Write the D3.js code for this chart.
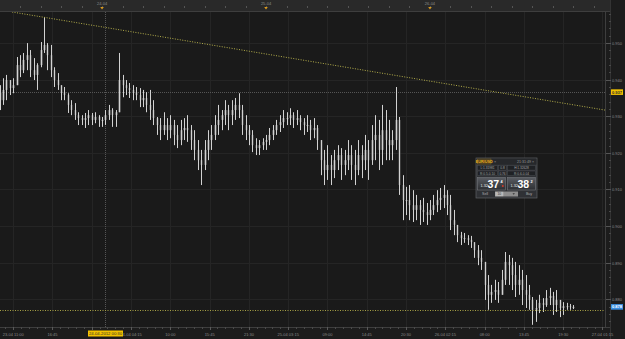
<!DOCTYPE html>
<html>
<head>
<meta charset="utf-8">
<script src="https://cdn.jsdelivr.net/npm/d3@7"></script>
<style>
  html, body { margin: 0; padding: 0; background: #1d1d1d; }
  svg { display: block; font-family: "Liberation Sans", Arial, sans-serif; }
</style>
</head>
<body>
<svg width="625" height="339"></svg>
<script>
// 30 minute bars from 23-04-2012 09:00, prices in 1/10000
var barStart = '23-04 09:00';
var firstOpen = 9365;
var highs = [
  9385, 9404, 9413, 9399, 9404, 9462, 9467, 9473, 9500, 9481,
  9459, 9445, 9503, 9571, 9500, 9495, 9434, 9418, 9385, 9380,
  9363, 9344, 9336, 9311, 9303, 9309, 9317, 9309, 9311, 9303,
  9298, 9317, 9331, 9322, 9317, 9473, 9413, 9399, 9391, 9385,
  9380, 9377, 9372, 9366, 9372, 9344, 9298, 9295, 9311, 9295,
  9303, 9290, 9276, 9290, 9295, 9303, 9276, 9262, 9235, 9208,
  9235, 9262, 9276, 9303, 9331, 9317, 9344, 9331, 9344, 9350,
  9363, 9331, 9303, 9276, 9262, 9240, 9235, 9240, 9249, 9268,
  9276, 9290, 9303, 9317, 9311, 9322, 9311, 9317, 9303, 9295,
  9303, 9290, 9295, 9276, 9235, 9208, 9221, 9194, 9208, 9221,
  9213, 9208, 9235, 9221, 9208, 9235, 9221, 9249, 9235, 9276,
  9303, 9290, 9331, 9317, 9290, 9262, 9380, 9298, 9139, 9107,
  9112, 9098, 9085, 9071, 9077, 9063, 9071, 9085, 9098, 9104,
  9112, 9098, 9085, 9044, 9003, 8984, 8981, 8975, 8973, 8954,
  8948, 8934, 8893, 8866, 8839, 8853, 8847, 8880, 8929, 8921,
  8913, 8902, 8893, 8880, 8866, 8839, 8806, 8798, 8812, 8803,
  8825, 8831, 8820, 8825, 8798, 8792, 8790, 8787, 8784
];
var lows = [
  9317, 9331, 9344, 9358, 9363, 9399, 9407, 9418, 9426, 9407,
  9399, 9372, 9434, 9473, 9426, 9407, 9380, 9372, 9344, 9344,
  9309, 9303, 9290, 9276, 9276, 9268, 9276, 9276, 9281, 9271,
  9271, 9276, 9290, 9271, 9271, 9317, 9352, 9358, 9350, 9344,
  9344, 9325, 9325, 9311, 9290, 9276, 9249, 9235, 9249, 9235,
  9240, 9221, 9213, 9221, 9235, 9230, 9208, 9180, 9153, 9112,
  9153, 9180, 9208, 9235, 9249, 9262, 9276, 9262, 9276, 9290,
  9295, 9249, 9235, 9221, 9202, 9194, 9194, 9208, 9208, 9221,
  9235, 9249, 9257, 9268, 9276, 9276, 9268, 9276, 9262, 9249,
  9257, 9235, 9240, 9208, 9139, 9112, 9126, 9112, 9131, 9153,
  9126, 9139, 9153, 9126, 9112, 9139, 9131, 9153, 9126, 9167,
  9180, 9153, 9167, 9180, 9180, 9180, 9208, 9085, 9016, 9030,
  9016, 9011, 9016, 9003, 9011, 9003, 9016, 9030, 9038, 9044,
  9049, 9030, 8989, 8975, 8956, 8948, 8954, 8948, 8940, 8913,
  8893, 8880, 8798, 8771, 8790, 8798, 8790, 8812, 8839, 8839,
  8825, 8806, 8812, 8784, 8776, 8771, 8730, 8738, 8762, 8765,
  8779, 8784, 8757, 8765, 8751, 8757, 8771, 8771, 8773
];
var closes = [
  9344, 9372, 9399, 9377, 9385, 9440, 9426, 9454, 9467, 9426,
  9413, 9440, 9481, 9495, 9467, 9426, 9399, 9385, 9366, 9358,
  9331, 9317, 9303, 9295, 9290, 9295, 9303, 9290, 9298, 9290,
  9290, 9303, 9317, 9303, 9311, 9399, 9385, 9377, 9372, 9366,
  9358, 9344, 9350, 9331, 9317, 9295, 9276, 9262, 9276, 9262,
  9276, 9249, 9235, 9262, 9268, 9262, 9235, 9208, 9180, 9167,
  9208, 9235, 9249, 9276, 9290, 9303, 9317, 9303, 9317, 9331,
  9317, 9276, 9262, 9249, 9221, 9213, 9221, 9230, 9235, 9249,
  9262, 9276, 9284, 9295, 9295, 9303, 9290, 9295, 9284, 9276,
  9276, 9262, 9268, 9235, 9180, 9153, 9167, 9153, 9180, 9194,
  9167, 9180, 9194, 9167, 9153, 9194, 9180, 9208, 9180, 9235,
  9249, 9208, 9262, 9235, 9221, 9235, 9290, 9112, 9071, 9071,
  9057, 9044, 9057, 9044, 9038, 9030, 9044, 9057, 9071, 9077,
  9085, 9057, 9016, 9003, 8975, 8967, 8967, 8962, 8956, 8934,
  8913, 8902, 8839, 8812, 8820, 8825, 8812, 8853, 8902, 8893,
  8866, 8839, 8853, 8825, 8812, 8798, 8771, 8776, 8790, 8784,
  8803, 8809, 8784, 8798, 8776, 8781, 8781, 8779, 8779
];

var timeTicks = ['23-04 11:00', '23-04 16:45', '23-04 22:30', '24-04 04:15', '24-04 10:00',
  '24-04 15:45', '24-04 21:30', '25-04 03:15', '25-04 09:00', '25-04 14:45', '25-04 20:30',
  '26-04 02:15', '26-04 08:00', '26-04 13:45', '26-04 19:30', '27-04 01:15'];
var dayLabels = ['24-04', '25-04', '26-04'];
var priceTicks = [0.950, 0.940, 0.930, 0.920, 0.910, 0.900, 0.890, 0.880];

var trendLine = [{ t: '23-04 10:50', p: 0.9585 }, { t: '27-04 01:36', p: 0.9317 }];
var levelLine = 0.8771;
var cursorTime = '24-04 00:30';
var cursorPrice = 0.9366;
var lastPrice = 0.8779;

(function() {
  'use strict';

  var W = 625, H = 339;
  var pLeft = 0, pRight = 605, pTop = 12, pBottom = 327;

  var parseT = function(s) {
    return d3.timeParse('%d-%m-%Y %H:%M')(s.slice(0, 5) + '-2012' + s.slice(5));
  };

  var svg = d3.select('svg');

  var x = d3.scaleTime()
    .domain([parseT('23-04 09:04'), parseT('27-04 01:37')])
    .range([pLeft, pRight]);
  var y = d3.scaleLinear()
    .domain([0.8724, 0.9585])
    .range([pBottom, pTop]);

  var t0 = parseT(barStart);
  var bars = highs.map(function(h, i) {
    return {
      t: d3.timeMinute.offset(t0, 30 * i),
      o: (i === 0 ? firstOpen : closes[i - 1]) / 1e4,
      h: h / 1e4,
      l: lows[i] / 1e4,
      c: closes[i] / 1e4
    };
  });

  // backgrounds
  svg.append('rect').attr('width', W).attr('height', H).attr('fill', '#1c1c1c');
  svg.append('rect').attr('x', 0).attr('y', 0).attr('width', 611).attr('height', 11).attr('fill', '#292929');
  svg.append('rect').attr('x', pLeft).attr('y', pTop).attr('width', pRight - pLeft).attr('height', pBottom - pTop)
    .attr('fill', '#1a1a1a');

  // grid
  var grid = svg.append('g').attr('stroke', '#252525').attr('stroke-width', 1);
  timeTicks.forEach(function(s) {
    var gx = Math.round(x(parseT(s))) + 0.5;
    grid.append('line').attr('x1', gx).attr('x2', gx).attr('y1', pTop).attr('y2', pBottom);
  });
  priceTicks.forEach(function(p) {
    var gy = Math.round(y(p)) + 0.5;
    grid.append('line').attr('x1', pLeft).attr('x2', pRight).attr('y1', gy).attr('y2', gy);
  });

  // frame
  svg.append('line').attr('x1', 0).attr('x2', 611).attr('y1', 11.5).attr('y2', 11.5).attr('stroke', '#3e3e3e');
  svg.append('line').attr('x1', 0).attr('x2', 611).attr('y1', pBottom + 0.5).attr('y2', pBottom + 0.5).attr('stroke', '#3e3e3e');
  svg.append('line').attr('x1', pRight + 0.5).attr('x2', pRight + 0.5).attr('y1', pTop).attr('y2', pBottom).attr('stroke', '#3e3e3e');
  svg.append('line').attr('x1', 610.5).attr('x2', 610.5).attr('y1', 0).attr('y2', H).attr('stroke', '#333');

  svg.append('clipPath').attr('id', 'plot')
    .append('rect').attr('x', pLeft).attr('y', pTop).attr('width', pRight - pLeft).attr('height', pBottom - pTop);
  var plot = svg.append('g').attr('clip-path', 'url(#plot)');

  // crosshair
  var cx = Math.round(x(parseT(cursorTime))) + 0.5;
  var cy = Math.round(y(cursorPrice)) + 0.5;
  plot.append('line').attr('x1', cx).attr('x2', cx).attr('y1', pTop).attr('y2', pBottom)
    .attr('stroke', '#555').attr('stroke-dasharray', '1,1');
  plot.append('line').attr('x1', pLeft).attr('x2', pRight).attr('y1', cy).attr('y2', cy)
    .attr('stroke', '#555').attr('stroke-dasharray', '1,1');

  // candles: grey body, light wick
  var candle = plot.selectAll('g.bar').data(bars).enter().append('g').attr('class', 'bar')
    .attr('transform', function(d) { return 'translate(' + Math.round(x(d.t)) + ',0)'; });
  candle.append('rect')
    .attr('x', -0.5).attr('width', 2)
    .attr('y', function(d) { return y(Math.max(d.o, d.c)); })
    .attr('height', function(d) { return Math.max(1, Math.abs(y(d.o) - y(d.c))); })
    .attr('fill', function(d) { return d.c >= d.o ? '#8a8a8a' : '#5e5e5e'; });
  candle.append('line')
    .attr('x1', 0.5).attr('x2', 0.5)
    .attr('y1', function(d) { return y(Math.max(d.h, d.o)); })
    .attr('y2', function(d) { return y(Math.min(d.l, d.o)); })
    .attr('stroke', '#d2d2d2');

  // trend line and level line
  plot.append('line')
    .attr('x1', x(parseT(trendLine[0].t))).attr('y1', y(trendLine[0].p))
    .attr('x2', x(parseT(trendLine[1].t))).attr('y2', y(trendLine[1].p))
    .attr('stroke', '#b4ae4a').attr('stroke-dasharray', '1,1.5');
  plot.append('line')
    .attr('x1', pLeft).attr('x2', pRight)
    .attr('y1', Math.round(y(levelLine)) + 0.5).attr('y2', Math.round(y(levelLine)) + 0.5)
    .attr('stroke', '#a8a244').attr('stroke-dasharray', '1,1.5');

  // top axis: 3h ticks, day labels
  var topAxis = svg.append('g').attr('fill', '#8a8a8a').attr('font-size', '4px');
  x.ticks(d3.timeHour.every(3)).forEach(function(t) {
    var tx = Math.round(x(t)) + 0.5;
    topAxis.append('line').attr('x1', tx).attr('x2', tx).attr('y1', 6).attr('y2', 8).attr('stroke', '#555');
  });
  dayLabels.forEach(function(s) {
    var tx = x(parseT(s + ' 00:00'));
    topAxis.append('text').attr('x', tx).attr('y', 5).attr('text-anchor', 'middle').text(s);
    topAxis.append('path')
      .attr('d', 'M' + (tx - 1.8) + ',7 h3.6 l-1.8,2.4 z')
      .attr('fill', '#d99a1e');
  });

  // bottom axis
  var minor = d3.range(-2, 85).map(function(k) { return d3.timeMinute.offset(parseT(timeTicks[0]), k * 69); });
  var bottomAxis = svg.append('g');
  minor.forEach(function(t) {
    var tx = Math.round(x(t)) + 0.5;
    if (tx < 0 || tx > pRight) return;
    bottomAxis.append('line').attr('x1', tx).attr('x2', tx).attr('y1', pBottom).attr('y2', pBottom + 2).attr('stroke', '#4a4a4a');
  });
  var fmtDay = d3.timeFormat('%d-%m %H:%M'), fmtTime = d3.timeFormat('%H:%M'), dayOf = d3.timeFormat('%d');
  timeTicks.forEach(function(s, i) {
    var t = parseT(s);
    var label = (i === 0 || dayOf(t) !== dayOf(parseT(timeTicks[i - 1]))) ? fmtDay(t) : fmtTime(t);
    var tx = x(t);
    bottomAxis.append('line').attr('x1', Math.round(tx) + 0.5).attr('x2', Math.round(tx) + 0.5)
      .attr('y1', pBottom).attr('y2', pBottom + 3).attr('stroke', '#5a5a5a');
    if (Math.abs(tx - cx) < 20) return; // hidden behind the cursor date tag
    bottomAxis.append('text').attr('x', Math.max(tx, 12)).attr('y', 335.5).attr('text-anchor', 'middle')
      .attr('font-size', '4px').attr('fill', '#8a8a8a').text(label);
  });

  // right axis
  var yAxis = svg.append('g');
  d3.range(0.874, 0.9585, 0.002).forEach(function(p) {
    var ty = Math.round(y(p)) + 0.5;
    yAxis.append('line').attr('x1', 609).attr('x2', 611).attr('y1', ty).attr('y2', ty).attr('stroke', '#4a4a4a');
  });
  priceTicks.forEach(function(p) {
    var ty = Math.round(y(p)) + 0.5;
    yAxis.append('line').attr('x1', 606).attr('x2', 611).attr('y1', ty).attr('y2', ty).attr('stroke', '#555');
    yAxis.append('text').attr('x', 612).attr('y', ty + 1.5).attr('font-size', '4px').attr('fill', '#8a8a8a')
      .text(d3.format('.3f')(p));
  });

  // price tags
  function tag(yy, label, bg, fg) {
    svg.append('rect').attr('x', 611).attr('y', yy - 2.8).attr('width', 12).attr('height', 5.6).attr('fill', bg);
    svg.append('text').attr('x', 617).attr('y', yy + 1.5).attr('text-anchor', 'middle')
      .attr('font-size', '4px').attr('font-weight', 'bold').attr('fill', fg).text(label);
  }
  tag(y(cursorPrice), d3.format('.3f')(cursorPrice), '#f2c200', '#2a2a2a');
  tag(y(lastPrice), d3.format('.3f')(lastPrice), '#3b8fe2', '#ffffff');

  // date tag under crosshair
  svg.append('rect').attr('x', cx - 17.5).attr('y', 330.5).attr('width', 35).attr('height', 6).attr('fill', '#f2c200');
  svg.append('text').attr('x', cx).attr('y', 335.3).attr('text-anchor', 'middle').attr('font-size', '4.2px')
    .attr('fill', '#2a2a2a').text(d3.timeFormat('%d-%m-%Y %H:%M')(parseT(cursorTime)));

  // deal ticket
  var grad = svg.append('defs').append('linearGradient').attr('id', 'btn').attr('x1', 0).attr('x2', 0).attr('y1', 0).attr('y2', 1);
  grad.append('stop').attr('offset', 0).attr('stop-color', '#5a5d63');
  grad.append('stop').attr('offset', 1).attr('stop-color', '#2c2e32');
  var tk = svg.append('g').attr('transform', 'translate(476,158)');
  tk.append('rect').attr('width', 61).attr('height', 40).attr('fill', '#2f3135').attr('stroke', '#5e6166').attr('stroke-width', 0.7);
  tk.append('rect').attr('x', 0.5).attr('y', 0.5).attr('width', 60).attr('height', 6).attr('fill', '#26282b');
  tk.append('rect').attr('x', 1.5).attr('y', 1).attr('width', 13.5).attr('height', 5).attr('fill', '#3b3322').attr('stroke', '#8c6d25').attr('stroke-width', 0.5);
  tk.append('text').attr('x', 8.2).attr('y', 4.8).attr('text-anchor', 'middle').attr('font-size', '3.8px').attr('font-weight', 'bold').attr('fill', '#f1b41a').text('EUR/USD');
  tk.append('text').attr('x', 18).attr('y', 4.8).attr('font-size', '3.8px').attr('fill', '#999').text('×');
  tk.append('text').attr('x', 58).attr('y', 4.8).attr('text-anchor', 'end').attr('font-size', '3.6px').attr('fill', '#9a9a9a').text('21:31:49  ×');

  var cells = [
    [[1.5, 20, 'L:1.31981'], [22.5, 8, '0.8'], [31.5, 28, 'H:1.32628']],
    [[1.5, 20, 'R:0.5-0.10'], [22.5, 8, '0.76'], [31.5, 28, 'R:0.6-0.04']]
  ];
  cells.forEach(function(row, r) {
    row.forEach(function(c) {
      tk.append('rect').attr('x', c[0]).attr('y', 7.5 + r * 5.5).attr('width', c[1]).attr('height', 4.6)
        .attr('fill', '#1f2124').attr('stroke', '#4b4e53').attr('stroke-width', 0.5);
      tk.append('text').attr('x', c[0] + c[1] / 2).attr('y', 11 + r * 5.5).attr('text-anchor', 'middle')
        .attr('font-size', '3.2px').attr('fill', '#a6a6a6').text(c[2]);
    });
  });

  [[1.5, '1.32', '37', '4'], [31.5, '1.32', '38', '2']].forEach(function(b, i) {
    var bx = b[0];
    tk.append('rect').attr('x', bx).attr('y', 19.5).attr('width', 28).attr('height', 12.5)
      .attr('fill', 'url(#btn)').attr('stroke', '#75787d').attr('stroke-width', 0.6);
    tk.append('text').attr('x', bx + 3).attr('y', 28.5).attr('font-size', '3.8px').attr('fill', '#e6e6e6').text(b[1]);
    tk.append('text').attr('x', bx + 10).attr('y', 30).attr('font-size', '10.5px').attr('font-weight', 'bold').attr('fill', '#ffffff').text(b[2]);
    tk.append('text').attr('x', bx + 23).attr('y', 24.5).attr('font-size', '3.8px').attr('font-weight', 'bold').attr('fill', '#ffffff').text(b[3]);
    if (i === 0) {
      tk.append('circle').attr('cx', bx + 25.3).attr('cy', 28).attr('r', 1).attr('fill', '#d23a2a');
    }
  });
  tk.append('text').attr('x', 9).attr('y', 37).attr('text-anchor', 'middle').attr('font-size', '3.6px').attr('fill', '#b0b0b0').text('Sell');
  tk.append('rect').attr('x', 19).attr('y', 33.5).attr('width', 23).attr('height', 5).attr('fill', '#8e8e8e');
  tk.append('rect').attr('x', 19.3).attr('y', 33.8).attr('width', 8).attr('height', 4.4).attr('fill', '#b8b8b8');
  tk.append('text').attr('x', 23.3).attr('y', 37.2).attr('text-anchor', 'middle').attr('font-size', '3.4px').attr('fill', '#333').text('10');
  tk.append('path').attr('d', 'M36.5,35.3 h2.4 l-1.2,1.4 z').attr('fill', '#333');
  tk.append('text').attr('x', 53).attr('y', 37).attr('text-anchor', 'middle').attr('font-size', '3.6px').attr('fill', '#b0b0b0').text('Buy');
})();
</script>
</body>
</html>
